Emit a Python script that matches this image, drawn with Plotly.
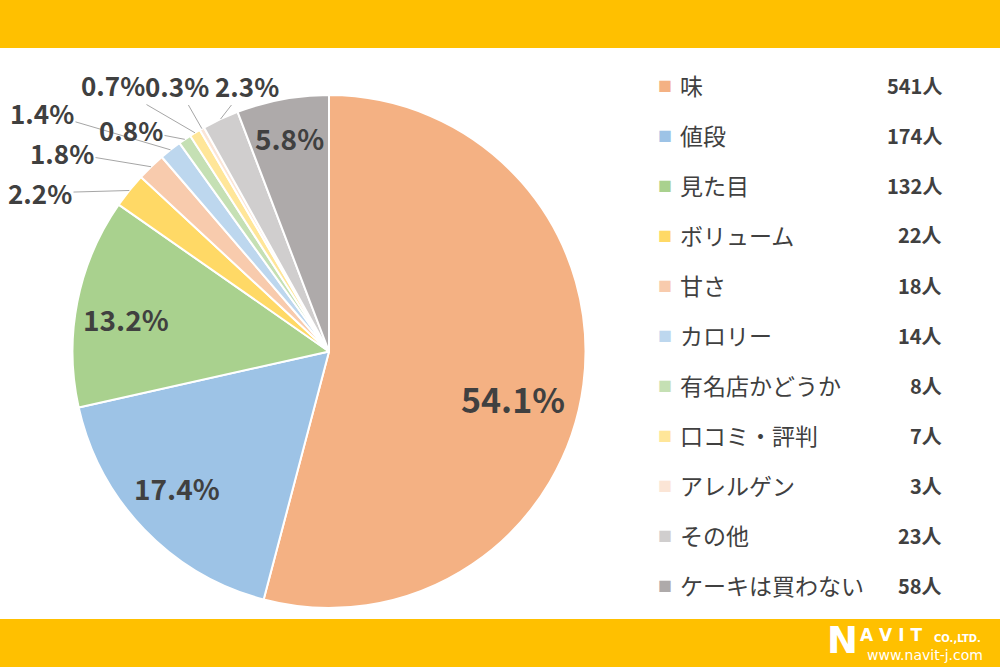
import math
import plotly.graph_objects as go

labels = ["味", "値段", "見た目", "ボリューム", "甘さ", "カロリー", "有名店かどうか",
          "口コミ・評判", "アレルゲン", "その他", "ケーキは買わない"]
counts = [541, 174, 132, 22, 18, 14, 8, 7, 3, 23, 58]
colors = ["#F4B183", "#9DC3E6", "#A9D18E", "#FFD966", "#F8CBAD", "#BDD7EE",
          "#C5E0B4", "#FFE699", "#FBE5D6", "#D0CECE", "#AEAAAA"]
count_labels = [f"{c}人" for c in counts]

W, H = 1000, 669
TXT = "#404040"
FONT = "Noto Sans CJK JP"

# pie geometry (pixels)
PX0, PX1, PY0, PY1 = 72, 586, 95, 608
CX, CY = (PX0 + PX1) / 2, (PY0 + PY1) / 2
R = min(PX1 - PX0, PY1 - PY0) / 2

total = sum(counts)

fig = go.Figure()
fig.add_trace(go.Pie(
    labels=labels, values=counts, sort=False, direction="clockwise", rotation=0,
    marker=dict(colors=colors, line=dict(color="white", width=2)),
    textinfo="none",
    domain=dict(x=[PX0 / W, PX1 / W], y=[1 - PY1 / H, 1 - PY0 / H]),
    showlegend=False, hoverinfo="label+value+percent",
))

# label layout: inside labels -> (radius fraction, pixel nudge, font size); outside -> text centre (px)
inside_layout = {0: (0.74, (-4, 23), 34), 1: (0.80, (-4, -6), 28), 2: (0.80, (-2, 7), 28),
                 10: (0.845, (0, 0), 28)}
outside_layout = {3: (40, 193), 4: (62, 152), 5: (42, 112), 6: (131, 129),
                  7: (113, 85), 8: (177, 85), 9: (247, 85)}

ann = []
cum = 0
for i, c in enumerate(counts):
    mid = (cum + c / 2) / total * 2 * math.pi
    cum += c
    dx, dy = math.sin(mid), -math.cos(mid)
    pct = f"<b>{c / total * 100:.1f}%</b>"
    if i in inside_layout:
        f, (nx, ny), fs = inside_layout[i]
        tx, ty = CX + f * R * dx + nx, CY + f * R * dy + ny
        ann.append(dict(x=tx / W, y=1 - ty / H, xref="paper", yref="paper", text=pct,
                        showarrow=False, font=dict(family=FONT, size=fs, color=TXT),
                        xanchor="center", yanchor="middle"))
    else:
        px, py = CX + R * dx, CY + R * dy
        tx, ty = outside_layout[i]
        ann.append(dict(x=px / W, y=1 - py / H, xref="paper", yref="paper", text=pct,
                        showarrow=True, ax=tx - px, ay=ty - py, arrowhead=0, arrowwidth=1,
                        arrowcolor="#A6A6A6", standoff=0, startstandoff=0,
                        font=dict(family=FONT, size=26, color=TXT)))

shapes = [
    dict(type="rect", xref="paper", yref="paper", x0=0, x1=1, y0=1 - 48 / H, y1=1,
         fillcolor="#FFC000", line_width=0, layer="below"),
    dict(type="rect", xref="paper", yref="paper", x0=0, x1=1, y0=1 - 667 / H, y1=1 - 619 / H,
         fillcolor="#FFC000", line_width=0, layer="below"),
]

for i, (lab, cl, col) in enumerate(zip(labels, count_labels, colors)):
    ypx = 85 + 50 * i
    yp = 1 - ypx / H
    ann.append(dict(x=665 / W, y=yp, xref="paper", yref="paper", text="■", showarrow=False,
                    font=dict(family=FONT, size=14, color=col), xanchor="center", yanchor="middle"))
    ann.append(dict(x=678 / W, y=yp, xref="paper", yref="paper", text=lab, showarrow=False,
                    font=dict(family=FONT, size=23, color=TXT), xanchor="left", yanchor="middle"))
    ann.append(dict(x=944 / W, y=yp, xref="paper", yref="paper", text=f"<b>{cl}</b>", showarrow=False,
                    font=dict(family=FONT, size=20, color=TXT), xanchor="right", yanchor="middle"))

# logo
ann.append(dict(x=826 / W, y=1 - 640 / H, xref="paper", yref="paper", text="<b>N</b>", showarrow=False,
                font=dict(family="DejaVu Sans", size=37, color="white"), xanchor="left", yanchor="middle",
                borderpad=0))
ann.append(dict(x=859 / W, y=1 - 635 / H, xref="paper", yref="paper", text="<b>A V I T</b>", showarrow=False,
                font=dict(family="DejaVu Sans", size=17, color="white"), xanchor="left", yanchor="middle",
                borderpad=0))
ann.append(dict(x=933 / W, y=1 - 638 / H, xref="paper", yref="paper", text="<b>CO.,LTD.</b>", showarrow=False,
                font=dict(family="DejaVu Sans", size=10, color="white"), xanchor="left", yanchor="middle",
                borderpad=0))
ann.append(dict(x=866 / W, y=1 - 655 / H, xref="paper", yref="paper", text="www.navit-j.com", showarrow=False,
                font=dict(family="DejaVu Sans", size=14, color="white"), xanchor="left", yanchor="middle",
                borderpad=0))

fig.update_layout(
    width=W, height=H, margin=dict(l=0, r=0, t=0, b=0),
    paper_bgcolor="white", plot_bgcolor="white",
    shapes=shapes, annotations=ann, font=dict(family=FONT),
)
fig.write_html("out.html")
